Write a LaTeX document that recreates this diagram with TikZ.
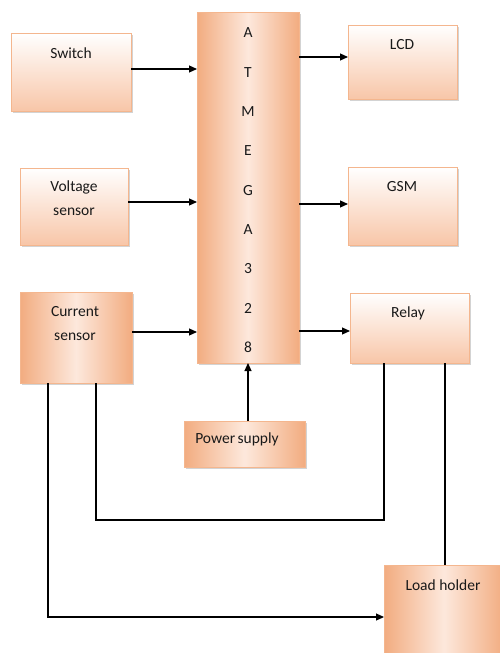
\documentclass[tikz,border=0pt]{standalone}
\usepackage{fontspec}
\setmainfont{Carlito}
\usetikzlibrary{arrows.meta,shadows}
\definecolor{pkborder}{RGB}{244,182,142}
\definecolor{pkdark}{RGB}{242,172,128}
\definecolor{pkmid}{RGB}{248,198,168}
\definecolor{pklight}{RGB}{253,232,220}
\tikzset{
  boxbase/.style={draw=pkborder, line width=0.8pt, inner sep=0pt, outer sep=0pt, anchor=north west,
    drop shadow={shadow xshift=1.5pt, shadow yshift=-1.5pt, opacity=0.35, fill=gray}},
  vbox/.style={boxbase, top color=white, bottom color=pkmid},
  dbox/.style={boxbase, left color=pkdark, right color=pkdark, middle color=pklight},
  lbl/.style={font=\fontsize{15.5}{24}\selectfont, text=black!90, align=center, inner sep=0pt},
  arr/.style={line width=1.1pt, -{Triangle[length=8pt,width=7pt]}},
  ln/.style={line width=1.1pt}
}
\begin{document}
\begin{tikzpicture}[x=1pt,y=-1pt]
\useasboundingbox (0,0) rectangle (499,653);
% boxes
\node[vbox, minimum width=120pt, minimum height=78pt] (sw) at (11,33) {};
\node[vbox, minimum width=108pt, minimum height=77pt] (vs) at (20,168) {};
\node[dbox, minimum width=112pt, minimum height=91pt] (cs) at (20,292) {};
\node[dbox, minimum width=102pt, minimum height=351pt] (atm) at (197,12) {};
\node[vbox, minimum width=109pt, minimum height=74pt] (lcd) at (348,25) {};
\node[vbox, minimum width=109pt, minimum height=78pt] (gsm) at (348,167) {};
\node[vbox, minimum width=119pt, minimum height=70pt] (rel) at (350,293) {};
\node[dbox, minimum width=121pt, minimum height=46pt] (ps) at (184,421) {};
\node[dbox, minimum width=120pt, minimum height=92pt] (lh) at (384,565) {};
% labels
\node[lbl] (tsw) at (71,53) {Switch};
\node[lbl] (tvs) at (74,198) {Voltage\\sensor};
\node[lbl] (tcs) at (75,324) {Current\\sensor};
\node[lbl] (tlcd) at (402,45) {LCD};
\node[lbl] (tgsm) at (402,187) {GSM};
\node[lbl] (trel) at (408,313) {Relay};
\node[lbl] (tps) at (237,439) {Power\hspace{-1pt} supply};
\node[lbl] (tlh) at (443,585) {Load holder};
\foreach \c [count=\i] in {A,T,M,E,G,A,3,2,8}
  \node[lbl] (l\i) at (248,{33+39.3*(\i-1)}) {\c};
% helper coordinates
\coordinate (y69) at (0,69);
\coordinate (y202) at (0,202);
\coordinate (y332) at (0,332);
\coordinate (y57) at (0,57);
\coordinate (y204) at (0,204);
\coordinate (y331) at (0,331);
\coordinate (y520) at (0,520);
\coordinate (y617) at (0,617);
\coordinate (x48) at (48,0);
\coordinate (x96) at (96,0);
\coordinate (x384) at (384,0);
\coordinate (x445) at (445,0);
\coordinate (x248) at (248,0);
% connectors
\draw[arr] (sw.east |- y69) -- (atm.west |- y69);
\draw[arr] (vs.east |- y202) -- (atm.west |- y202);
\draw[arr] (cs.east |- y332) -- (atm.west |- y332);
\draw[arr] (atm.east |- y57) -- (lcd.west |- y57);
\draw[arr] (atm.east |- y204) -- (gsm.west |- y204);
\draw[arr] (atm.east |- y331) -- (rel.west |- y331);
\draw[arr] (ps.north -| x248) -- (atm.south -| x248);
\draw[ln] (cs.south -| x96) |- (x384 |- y520) -- (rel.south -| x384);
\draw[ln] (rel.south -| x445) -- (lh.north -| x445);
\draw[arr] (cs.south -| x48) |- (lh.west |- y617);
\end{tikzpicture}
\end{document}
